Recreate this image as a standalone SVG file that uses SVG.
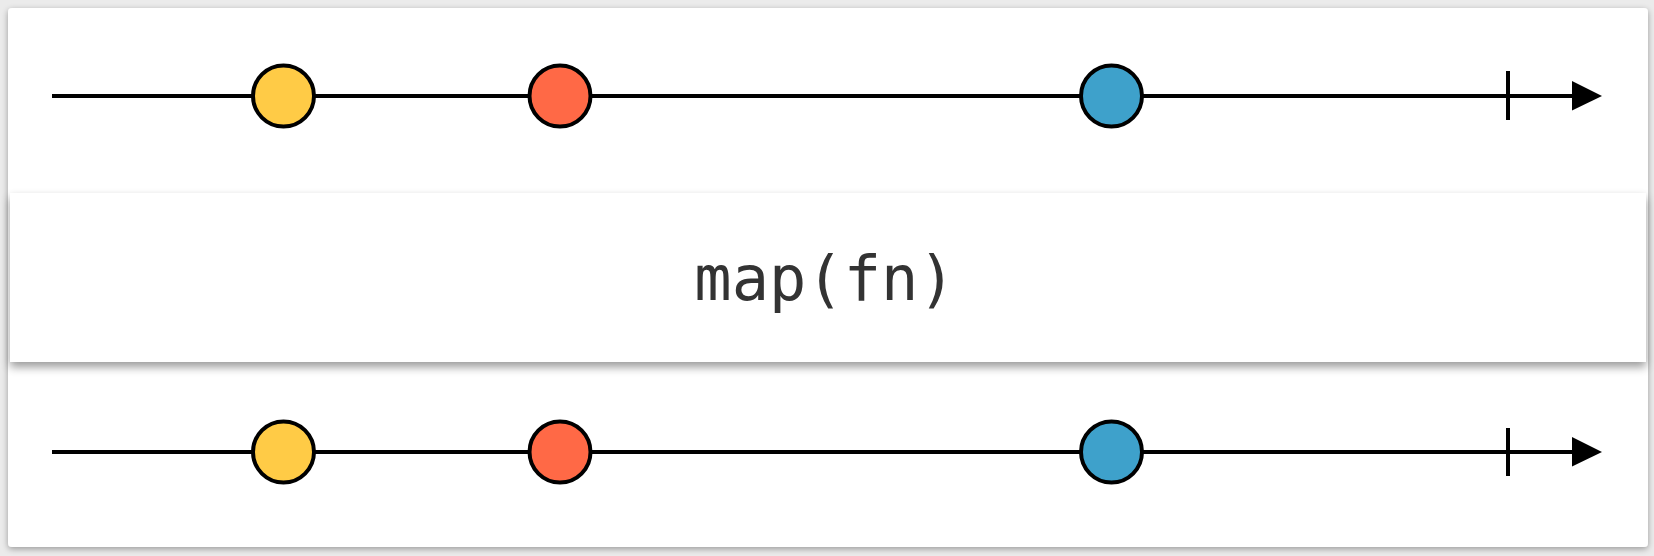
<svg xmlns="http://www.w3.org/2000/svg" width="1654" height="556" viewBox="0 0 1654 556">
  <style>
    .axis { stroke: #000; stroke-width: 4; fill: none; }
    .marble { stroke: #000; stroke-width: 4; }
    .label { font-family: "DejaVu Sans Mono", "Liberation Mono", monospace; font-size: 62px; fill: #333; }
  </style>
  <defs>
    <filter id="sh" x="-5%" y="-20%" width="110%" height="150%">
      <feGaussianBlur in="SourceAlpha" stdDeviation="3"/>
      <feOffset dy="2"/>
      <feComponentTransfer><feFuncA type="linear" slope="0.35"/></feComponentTransfer>
      <feMerge><feMergeNode/><feMergeNode in="SourceGraphic"/></feMerge>
    </filter>
    <filter id="sh2" x="-5%" y="-20%" width="110%" height="160%">
      <feGaussianBlur in="SourceAlpha" stdDeviation="5"/>
      <feOffset dy="5"/>
      <feComponentTransfer><feFuncA type="linear" slope="0.4"/></feComponentTransfer>
      <feMerge><feMergeNode/><feMergeNode in="SourceGraphic"/></feMerge>
    </filter>
  </defs>
  <rect width="1654" height="556" fill="#ebebeb"/>
  <rect x="8" y="8" width="1640" height="539" rx="4" fill="#fff" filter="url(#sh)"/>

  <g id="connectors">
    <g id="input-axis">
      <line class="axis" x1="52" y1="96" x2="1578" y2="96"/>
      <line class="axis" x1="1508" y1="71" x2="1508" y2="120"/>
      <polygon points="1572,81 1602,96 1572,110.5" fill="#000"/>
    </g>
    <g id="output-axis">
      <line class="axis" x1="52" y1="452" x2="1578" y2="452"/>
      <line class="axis" x1="1508" y1="428" x2="1508" y2="476"/>
      <polygon points="1572,437 1602,452 1572,466.5" fill="#000"/>
    </g>
  </g>

  <g id="in-yellow"><circle class="marble" cx="283.5" cy="96" r="30.5" fill="#ffcb46"/></g>
  <g id="in-red"><circle class="marble" cx="560" cy="96" r="30.5" fill="#ff6946"/></g>
  <g id="in-blue"><circle class="marble" cx="1111.5" cy="96" r="30.5" fill="#3ea1cb"/></g>

  <g id="operator">
    <rect x="10" y="193" width="1636" height="169" fill="#fff" filter="url(#sh2)"/>
    <text class="label" x="825" y="300" text-anchor="middle">map(fn)</text>
  </g>

  <g id="out-yellow"><circle class="marble" cx="283.5" cy="452" r="30.5" fill="#ffcb46"/></g>
  <g id="out-red"><circle class="marble" cx="560" cy="452" r="30.5" fill="#ff6946"/></g>
  <g id="out-blue"><circle class="marble" cx="1111.5" cy="452" r="30.5" fill="#3ea1cb"/></g>
</svg>
